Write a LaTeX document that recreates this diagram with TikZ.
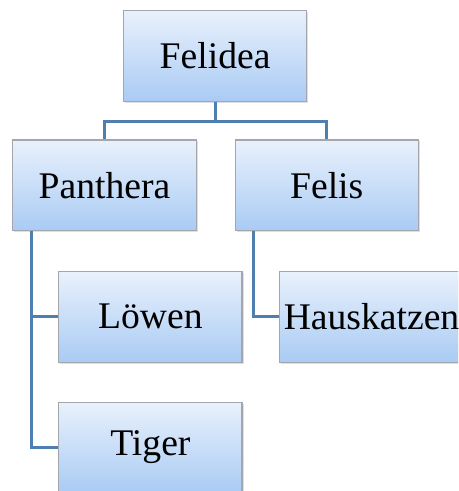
\documentclass[tikz,border=0pt]{standalone}
\usepackage{fontspec}
\setmainfont{Liberation Serif}
\usetikzlibrary{positioning,shadows}

\definecolor{boxtop}{HTML}{E9F1FC}
\definecolor{boxbottom}{HTML}{A9CBF4}
\definecolor{boxline}{HTML}{A3A7AD}
\definecolor{linkblue}{HTML}{4E7FAE}

\tikzset{
    taxon/.style={rectangle, draw=boxline, line width=0.6pt, top color=boxtop, bottom color=boxbottom,
        minimum width=3.68cm, minimum height=1.82cm, inner sep=0pt,
        font=\fontsize{21.5}{25}\selectfont,
        drop shadow={shadow xshift=0.03cm, shadow yshift=-0.03cm, fill=black!25}},
    link/.style={draw=linkblue, line width=1.7pt}
}

\begin{document}
\begin{tikzpicture}
    \clip (-4.32,-8.74) rectangle (4.88,1.12);
    \node[taxon] (felidea) {Felidea};
    \node[taxon, below=0.76cm of felidea, xshift=-2.22cm] (panthera) {Panthera};
    \node[taxon, right=0.76cm of panthera] (felis) {Felis};
    \node[taxon, below=0.8cm of panthera.south west, anchor=north west, xshift=0.92cm] (loewen) {Löwen};
    \node[taxon, below=0.78cm of loewen] (tiger) {Tiger};
    \node[taxon, right=0.74cm of loewen] (hauskatzen) {Hauskatzen};

    \draw[link] (felidea.south) -- ++(0,-0.4) -| (panthera.north);
    \draw[link] (felidea.south) -- ++(0,-0.4) -| (felis.north);
    \draw[link] ([xshift=0.38cm]panthera.south west) |- (loewen.west);
    \draw[link] ([xshift=0.38cm]panthera.south west) |- (tiger.west);
    \draw[link] ([xshift=0.38cm]felis.south west) |- (hauskatzen.west);
\end{tikzpicture}
\end{document}
